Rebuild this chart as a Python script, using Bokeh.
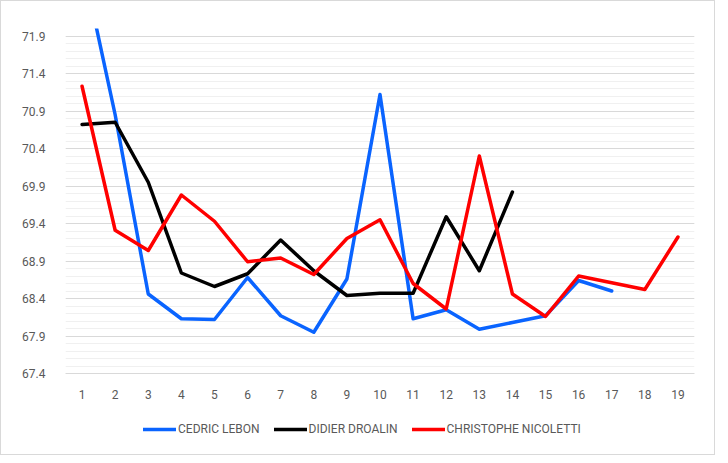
from bokeh.plotting import figure
from bokeh.models import Range1d, FixedTicker, Legend, LegendItem
from bokeh.embed import file_html
from bokeh.resources import INLINE

rounds = list(range(1, 20))
tick_labels = [str(i) for i in rounds]

cedric_x = list(range(1, 18))
cedric = [72.9, 70.85, 68.46, 68.13, 68.12, 68.68, 68.17, 67.95, 68.66, 71.12,
          68.13, 68.25, 67.99, 68.08, 68.17, 68.64, 68.50]

didier_x = list(range(1, 15))
didier = [70.72, 70.75, 69.95, 68.74, 68.56, 68.73, 69.18, 68.77, 68.44, 68.47,
          68.47, 69.49, 68.77, 69.82]

christophe_x = list(range(1, 20))
christophe = [71.23, 69.31, 69.04, 69.78, 69.43, 68.89, 68.94, 68.72, 69.20, 69.45,
              68.60, 68.26, 70.30, 68.46, 68.16, 68.70, 68.61, 68.52, 69.22]

y_ticks = [67.4, 67.9, 68.4, 68.9, 69.4, 69.9, 70.4, 70.9, 71.4, 71.9]
y_minor = [round(67.4 + 0.1 * i, 1) for i in range(0, 47)]
Y_AXIS_MIN = 67.4
Y_AXIS_MAX = 72.0

# frame from fig y=27 to 452 (425px); data part 67.4..72.0 occupies 345px
px_per_unit = 345 / (Y_AXIS_MAX - Y_AXIS_MIN)
y_low = Y_AXIS_MAX - 425 / px_per_unit

p = figure(width=715, height=455, output_backend="svg", toolbar_location=None,
           x_range=Range1d(0.5, 19.5), y_range=Range1d(y_low, Y_AXIS_MAX),
           min_border_left=64, min_border_right=22, min_border_top=27, min_border_bottom=3)
p.outline_line_color = None
p.background_fill_color = "white"
p.border_fill_color = "white"
p.styles = {"border": "1px solid #d9d9d9", "box-sizing": "border-box"}

FONT = "Roboto"
GRAY = "#595959"

p.xaxis.fixed_location = Y_AXIS_MIN
p.xaxis.ticker = FixedTicker(ticks=rounds)
p.xaxis.major_label_overrides = {i: s for i, s in zip(rounds, tick_labels)}
p.xaxis.axis_line_color = "#d9d9d9"
p.xaxis.axis_line_width = 1
p.xaxis.major_tick_line_color = None
p.xaxis.minor_tick_line_color = None
p.xaxis.major_label_text_font = FONT
p.xaxis.major_label_text_font_size = "12px"
p.xaxis.major_label_text_color = GRAY
p.xaxis.major_label_standoff = 10

p.yaxis.ticker = FixedTicker(ticks=y_ticks, minor_ticks=y_minor)
p.yaxis.major_label_overrides = {v: f"{v:.1f}" for v in y_ticks}
p.yaxis.axis_line_color = None
p.yaxis.major_tick_line_color = None
p.yaxis.minor_tick_line_color = None
p.yaxis.major_label_text_font = FONT
p.yaxis.major_label_text_font_size = "12px"
p.yaxis.major_label_text_color = GRAY
p.yaxis.major_label_standoff = 14

p.xgrid.grid_line_color = None
p.ygrid.grid_line_color = "#d9d9d9"
p.ygrid.grid_line_width = 1
p.ygrid.minor_grid_line_color = "#f0f0f0"
p.ygrid.minor_grid_line_width = 1

r1 = p.line(cedric_x, cedric, line_color="#0a64ff", line_width=3.5, line_cap="round", line_join="round")
r2 = p.line(didier_x, didier, line_color="#000000", line_width=3.5, line_cap="round", line_join="round")
r3 = p.line(christophe_x, christophe, line_color="#ff0000", line_width=3.5, line_cap="round", line_join="round")

legend = Legend(items=[LegendItem(label="CEDRIC LEBON", renderers=[r1]),
                       LegendItem(label="DIDIER DROALIN", renderers=[r2]),
                       LegendItem(label="CHRISTOPHE NICOLETTI", renderers=[r3])],
                orientation="horizontal", location=(78, 17),
                glyph_width=33, glyph_height=14, label_standoff=2, spacing=14,
                padding=0, margin=0, border_line_color=None, background_fill_alpha=0,
                label_text_font=FONT, label_text_font_size="12px", label_text_color=GRAY)
p.add_layout(legend, "center")

open("out.html", "w").write(file_html(p, INLINE))
